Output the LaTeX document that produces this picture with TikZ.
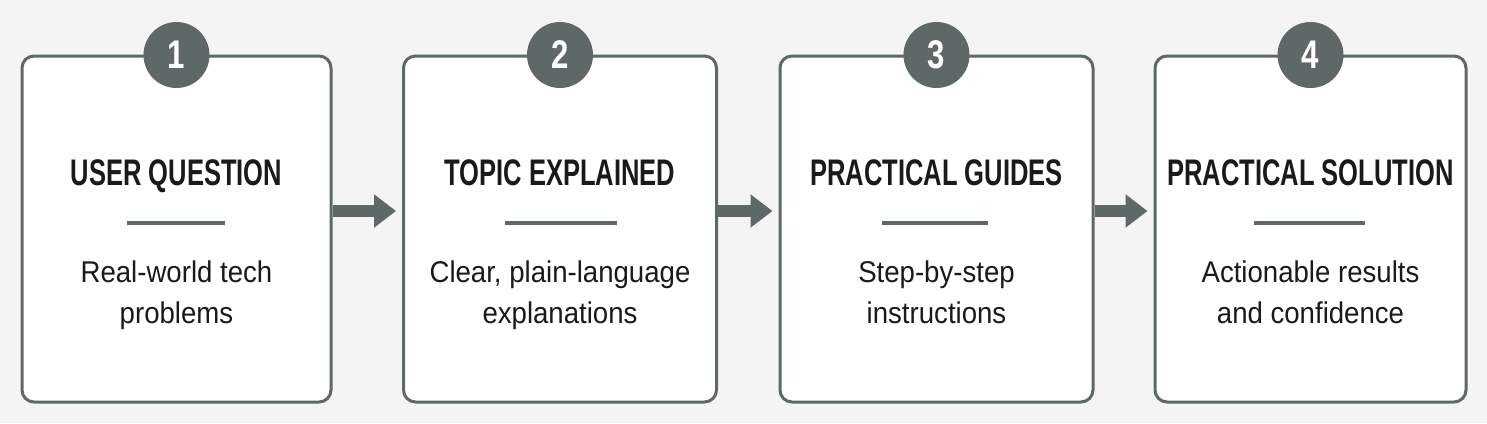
\documentclass[tikz,border=0pt]{standalone}
\usepackage{fontspec}
\setmainfont{Liberation Sans}
\newfontfamily\titlefont[FakeStretch=0.69]{Liberation Sans}
\newfontfamily\descfont[FakeStretch=0.92]{Liberation Sans}
\newfontfamily\numfont[FakeStretch=0.78]{Liberation Sans}
\usetikzlibrary{arrows.meta}
\definecolor{bggrey}{HTML}{F4F4F4}
\definecolor{boxgrey}{HTML}{5E6866}
\definecolor{inkdark}{HTML}{1A1A1A}
\tikzset{
  stepbox/.style={draw=boxgrey, line width=3pt, fill=white, rounded corners=12pt,
    minimum height=346pt, inner sep=0pt},
  numdisc/.style={circle, fill=boxgrey, minimum size=66pt, inner sep=0pt,
    text=white, font=\numfont\bfseries\fontsize{40}{40}\selectfont},
  titletext/.style={anchor=base, inner sep=0pt, text=inkdark,
    font=\titlefont\bfseries\fontsize{37}{37}\selectfont},
  desctext/.style={anchor=base, inner sep=0pt, text=inkdark,
    font=\descfont\fontsize{30}{30}\selectfont},
  divider/.style={draw=boxgrey, line width=4pt},
  flowarrow/.style={draw=boxgrey, fill=boxgrey, line width=12pt,
    -{Triangle[length=22pt,width=32pt]}, shorten >=6pt}
}
\begin{document}
\begin{tikzpicture}[x=1pt,y=-1pt]
\fill[bggrey] (0,0) rectangle (1487,423);
\useasboundingbox (0,0) rectangle (1487,423);

% boxes
\node[stepbox, minimum width=309pt] (b1) at (176.5,229) {};
\node[stepbox, minimum width=313pt] (b2) at (560,229) {};
\node[stepbox, minimum width=313pt] (b3) at (936.5,229) {};
\node[stepbox, minimum width=311pt] (b4) at (1310.5,229) {};

% number discs
\node[numdisc] (n1) at (176.5,55) {1};
\node[numdisc] (n2) at (560,55) {2};
\node[numdisc] (n3) at (936.5,55) {3};
\node[numdisc] (n4) at (1310.5,55) {4};

% titles
\node[titletext] (t1) at (176.5,185) {USER QUESTION};
\node[titletext] (t2) at (560,185) {TOPIC EXPLAINED};
\node[titletext] (t3) at (936.5,185) {PRACTICAL GUIDES};
\node[titletext] (t4) at (1310.5,185) {PRACTICAL SOLUTION};

% dividers
\draw[divider] (127,223) -- (225,223);
\draw[divider] (505,223) -- (617,223);
\draw[divider] (882,223) -- (988,223);
\draw[divider] (1254,223) -- (1365,223);

% descriptions
\node[desctext] (d1a) at (176.5,282) {Real-world tech};
\node[desctext] (d1b) at (176.5,323) {problems};
\node[desctext] (d2a) at (560,282) {Clear, plain-language};
\node[desctext] (d2b) at (560,323) {explanations};
\node[desctext] (d3a) at (936.5,282) {Step-by-step};
\node[desctext] (d3b) at (936.5,323) {instructions};
\node[desctext] (d4a) at (1310.5,282) {Actionable results};
\node[desctext] (d4b) at (1310.5,323) {and confidence};

% arrows
\draw[flowarrow] (b1.east |- 0,211) -- (b2.west |- 0,211);
\draw[flowarrow] (b2.east |- 0,211) -- (b3.west |- 0,211);
\draw[flowarrow] (b3.east |- 0,211) -- (b4.west |- 0,211);
\end{tikzpicture}
\end{document}
